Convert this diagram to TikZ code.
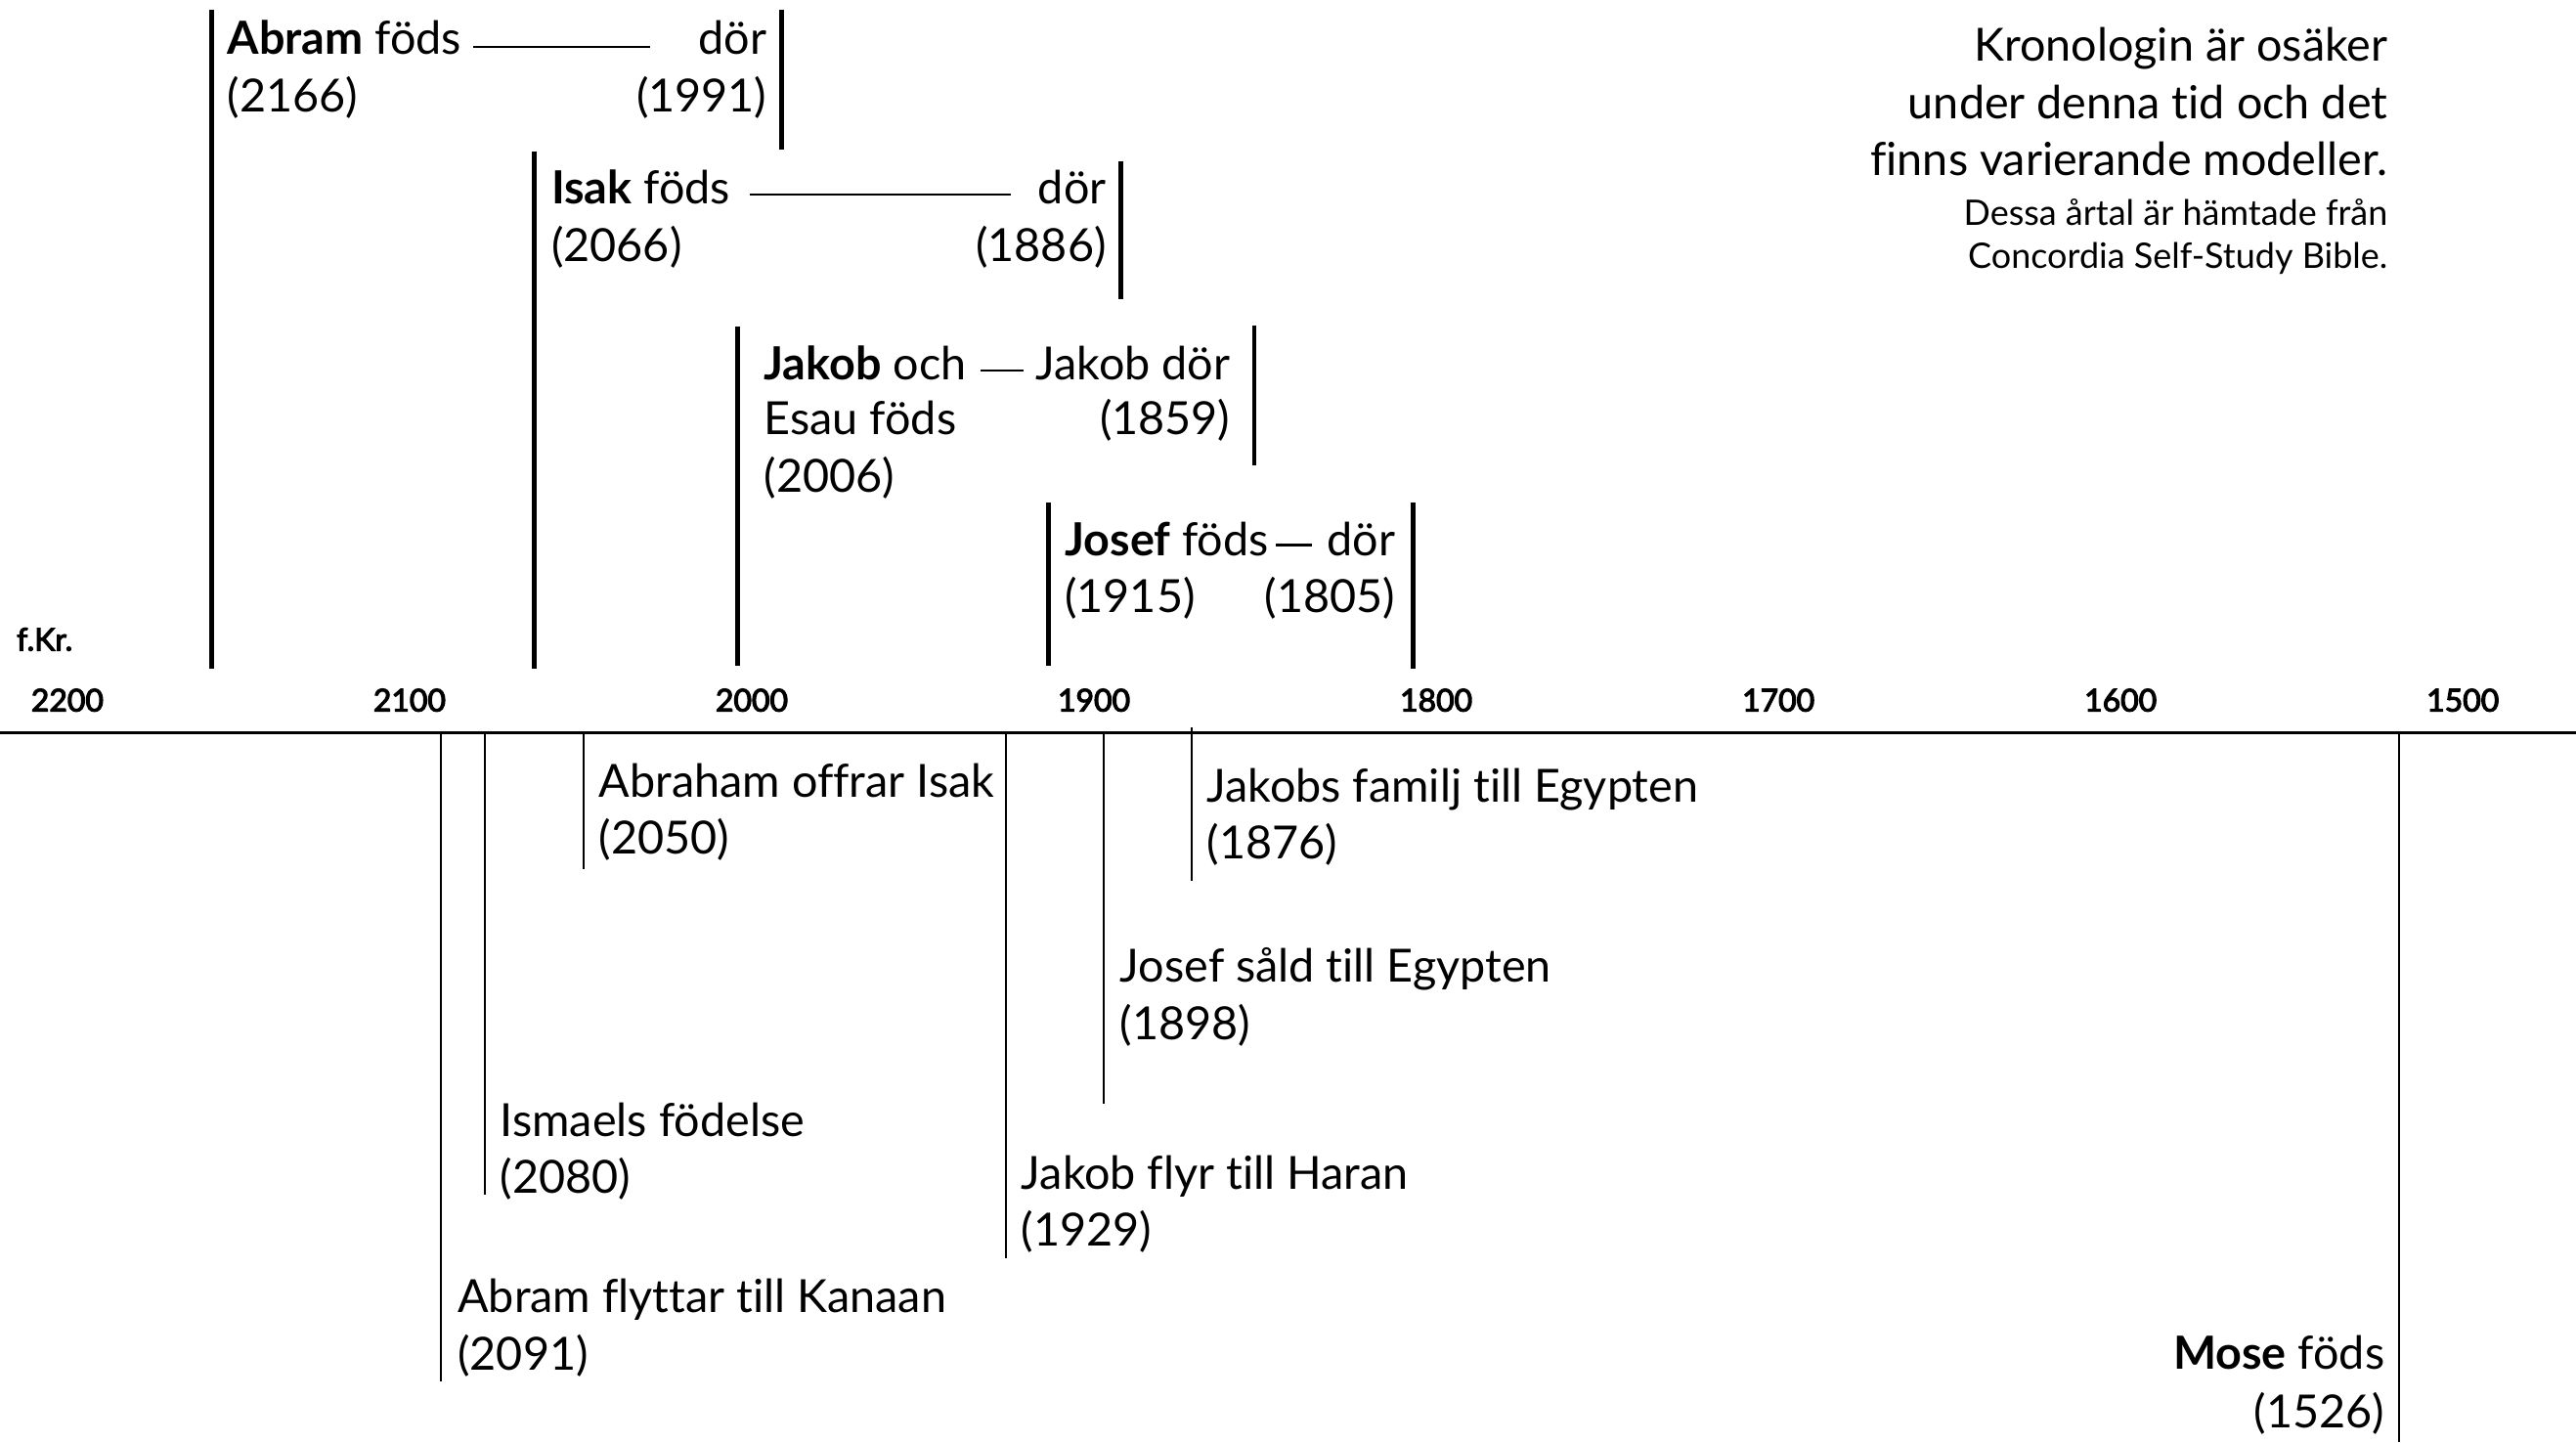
\documentclass[tikz,border=0pt]{standalone}
\usepackage{fontspec}
\setmainfont{Lato}[Ligatures=NoCommon]
\newfontfamily\axisfont{Lato}[FakeBold=3.5]
\usetikzlibrary{positioning}

\tikzset{
  txt/.style={inner sep=0pt, font=\fontsize{27.8}{35}\selectfont},
  notesmall/.style={inner sep=0pt, font=\fontsize{21.4}{26.7}\selectfont},
  yearlbl/.style={inner sep=0pt, font=\axisfont\fontsize{19}{20}\selectfont},
  lifebar/.style={line width=2.8pt},
  eventbar/.style={line width=1.2pt},
  lifespan/.style={line width=1.3pt},
}

\begin{document}
\begin{tikzpicture}[x=1pt,y=-1pt]
    \useasboundingbox (0,0) rectangle (1568,878);

    % axis
    \draw[line width=1.8pt] (0,446) -- (1568,446);
    \foreach \yr [count=\i from 0] in {2200,2100,2000,1900,1800,1700,1600,1500}
        \node[yearlbl, anchor=base] (t\yr) at ({41+208.3*\i},433) {\yr};
    \node[yearlbl, anchor=base west] (fkr) at (10,396) {f.Kr.};

    % Abram
    \draw[lifebar] (128.8,5.8) -- (128.8,407);
    \draw[lifebar] (475.7,5.8) -- (475.7,91);
    \node[txt, anchor=base west] (abramB) at (138.2,33.2) {\textbf{Abram} föds};
    \node[txt, anchor=base west] (abramBy) at ([yshift=-34.7pt]abramB.base west) {(2166)};
    \node[txt, anchor=base east] (abramD) at (467,33.2) {dör};
    \node[txt, anchor=base east] (abramDy) at ([yshift=-34.7pt]abramD.base east) {(1991)};
    \draw[lifespan, shorten <=7pt, shorten >=29.6pt] ([yshift=4.5pt]abramB.base east) -- ([yshift=4.5pt]abramD.base west);

    % Isak
    \draw[lifebar] (325.2,92) -- (325.2,407);
    \draw[lifebar] (682.4,98) -- (682.4,182);
    \node[txt, anchor=base west] (isakB) at (335.5,124.2) {\textbf{Isak} föds};
    \node[txt, anchor=base west] (isakBy) at ([yshift=-34.7pt]isakB.base west) {(2066)};
    \node[txt, anchor=base east] (isakD) at (673.6,124.2) {dör};
    \node[txt, anchor=base east] (isakDy) at ([yshift=-34.7pt]isakD.base east) {(1886)};
    \draw[lifespan, shorten <=11.4pt, shorten >=16.5pt] ([yshift=5.8pt]isakB.base east) -- ([yshift=5.8pt]isakD.base west);

    % Jakob
    \draw[lifebar] (449,199) -- (449,405);
    \draw[lifebar] (763.4,198) -- (763.4,283);
    \node[txt, anchor=base west] (jakobB) at (464.9,231) {\textbf{Jakob} och};
    \node[txt, anchor=base west] (esauB) at ([yshift=-33.8pt]jakobB.base west) {Esau föds};
    \node[txt, anchor=base west] (jakobBy) at ([yshift=-34.7pt]esauB.base west) {(2006)};
    \node[txt, anchor=base east] (jakobD) at (749,231) {Jakob dör};
    \node[txt, anchor=base east] (jakobDy) at ([yshift=-33.8pt]jakobD.base east) {(1859)};
    \draw[lifespan, shorten <=8.4pt, shorten >=7.4pt] ([yshift=5.7pt]jakobB.base east) -- ([yshift=5.7pt]jakobD.base west);

    % Josef
    \draw[lifebar] (638,306) -- (638,405);
    \draw[lifebar] (860,306) -- (860,407);
    \node[txt, anchor=base west] (josefB) at (648,338) {\textbf{Josef} föds};
    \node[txt, anchor=base west] (josefBy) at ([yshift=-34.6pt]josefB.base west) {(1915)};
    \node[txt, anchor=base east] (josefD) at (849.5,338) {dör};
    \node[txt, anchor=base east] (josefDy) at ([yshift=-34.6pt]josefD.base east) {(1805)};
    \draw[lifespan, shorten <=4.3pt, shorten >=9pt] ([yshift=6.3pt]josefB.base east) -- ([yshift=6.3pt]josefD.base west);

    % events below the axis
    \draw[eventbar] (268.4,447) -- (268.4,841);
    \node[txt, anchor=base west] (kanaan) at (278.5,799) {Abram flyttar till Kanaan};
    \node[txt, anchor=base west] (kanaanY) at ([yshift=-35pt]kanaan.base west) {(2091)};

    \draw[eventbar] (294.9,447) -- (294.9,727);
    \node[txt, anchor=base west] (ismael) at (304.4,691.5) {Ismaels födelse};
    \node[txt, anchor=base west] (ismaelY) at ([yshift=-35pt]ismael.base west) {(2080)};

    \draw[eventbar] (355.4,447) -- (355.4,529);
    \node[txt, anchor=base west] (offer) at (364.5,485) {Abraham offrar Isak};
    \node[txt, anchor=base west] (offerY) at ([yshift=-35pt]offer.base west) {(2050)};

    \draw[eventbar] (612.6,447) -- (612.6,766);
    \node[txt, anchor=base west] (haran) at (621.6,723.6) {Jakob flyr till Haran};
    \node[txt, anchor=base west] (haranY) at ([yshift=-35pt]haran.base west) {(1929)};

    \draw[eventbar] (671.6,447) -- (671.6,672);
    \node[txt, anchor=base west] (sald) at (681.7,598) {Josef såld till Egypten};
    \node[txt, anchor=base west] (saldY) at ([yshift=-35pt]sald.base west) {(1898)};

    \draw[eventbar] (725.3,443) -- (725.3,536);
    \node[txt, anchor=base west] (familj) at (734.5,488) {Jakobs familj till Egypten};
    \node[txt, anchor=base west] (familjY) at ([yshift=-35pt]familj.base west) {(1876)};

    \draw[lifebar, line width=1.6pt] (1460.3,447) -- (1460.3,878);
    \node[txt, anchor=base east] (mose) at (1451.7,833.5) {\textbf{Mose} föds};
    \node[txt, anchor=base east] (moseY) at ([yshift=-35.5pt]mose.base east) {(1526)};

    % note (base anchor sits on the last line)
    \node[txt, anchor=base east, align=right] (note) at (1453.5,107.1)
        {Kronologin är osäker\\under denna tid och det\\finns varierande modeller.};
    \node[notesmall, anchor=base east, align=right] (source) at (1453.5,163.6)
        {Dessa årtal är hämtade från\\Concordia Self-Study Bible.};
\end{tikzpicture}
\end{document}
